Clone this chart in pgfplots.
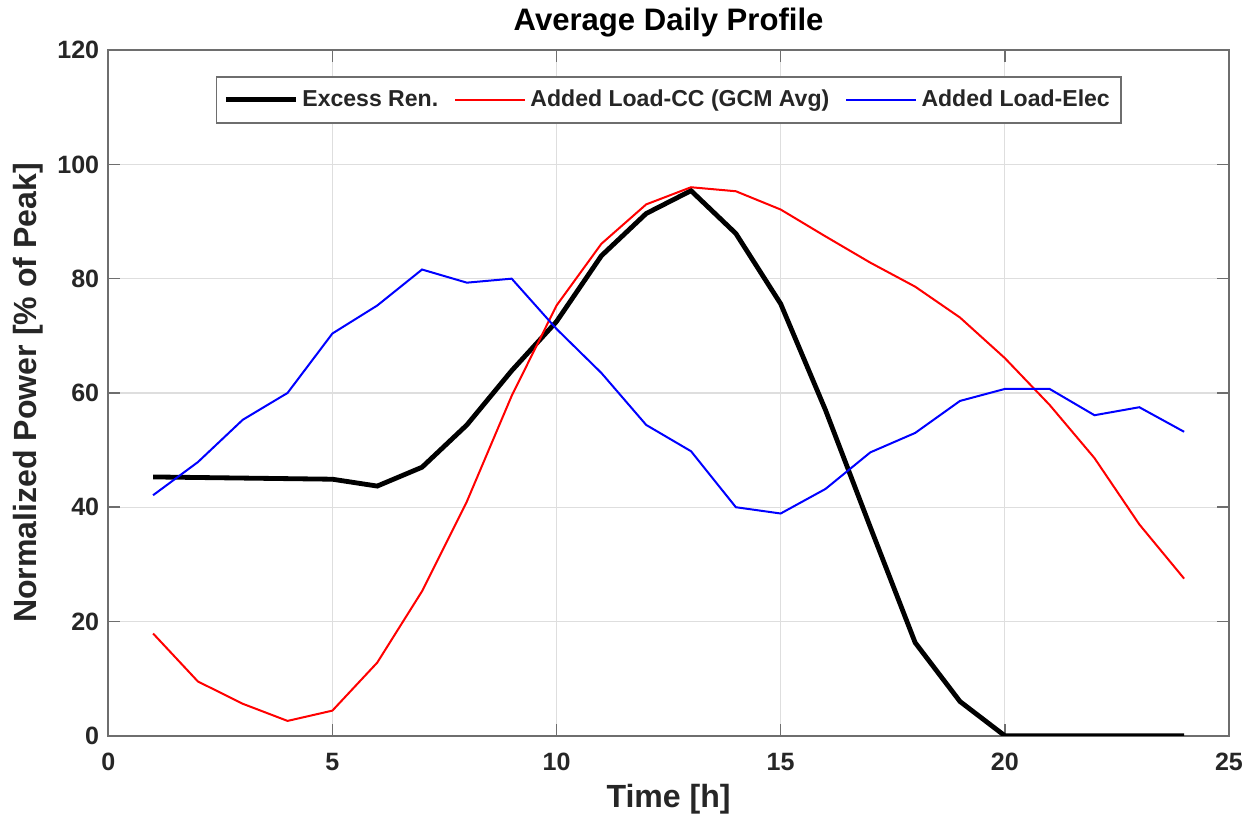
\documentclass[border=0pt]{standalone}
\usepackage{pgfplots}
\pgfplotsset{compat=1.18}
\usepackage{fontspec}
\setmainfont{Liberation Sans}

\definecolor{gridgray}{RGB}{222,222,222}
\definecolor{axgray}{RGB}{110,110,110}
\definecolor{txt}{RGB}{38,38,38}

\begin{document}
\begin{tikzpicture}
  \begin{axis}[
      name=main,
      scale only axis,
      width=559pt,
      height=342pt,
      xmin=0, xmax=25,
      ymin=0, ymax=120,
      xtick={0,5,...,25},
      ytick={0,20,...,120},
      tick align=inside,
      tick pos=both,
      major tick length=6pt,
      grid=major,
      major grid style={gridgray, line width=0.6pt},
      axis line style={axgray, line width=1pt},
      tick style={axgray, line width=0.8pt},
      /pgf/number format/assume math mode=true,
      tick label style={font=\fontsize{12.5}{14}\selectfont\bfseries, text=txt},
      xticklabel style={anchor=center, yshift=-13pt},
      yticklabel style={anchor=east, xshift=-1pt},
      title={Average Daily Profile},
      title style={font=\fontsize{15.5}{17}\selectfont\bfseries,
        at={(axis description cs:0.5,1.023)}, anchor=center},
      xlabel={Time [h]},
      ylabel={Normalized Power [\% of Peak]},
      label style={font=\fontsize{16}{18}\selectfont\bfseries, text=txt},
      xlabel style={at={(axis description cs:0.5,-0.092)}, anchor=center},
      ylabel style={at={(axis description cs:-0.0716,0.5)}, anchor=center},
      legend columns=3,
      legend style={at={(0.5,0.962)}, anchor=north, draw=axgray, line width=0.8pt,
        font=\fontsize{11.5}{14}\selectfont\bfseries, text=txt,
        /tikz/every even column/.append style={column sep=6pt},
        inner xsep=3.5pt, inner ysep=4.5pt},
      legend image code/.code={\draw[#1] (0pt,0pt) -- (35pt,0pt);},
    ]
    \addplot[black, line width=2.4pt] coordinates {
      (1,45.3) (2,45.2) (3,45.1) (4,45.0) (5,44.9) (6,43.7) (7,47.0) (8,54.4)
      (9,63.9) (10,72.5) (11,84.0) (12,91.4) (13,95.4) (14,87.9) (15,75.6)
      (16,57.0) (17,36.5) (18,16.3) (19,6.0) (20,0) (21,0) (22,0) (23,0) (24,0)
    };
    \addplot[red, line width=1pt] coordinates {
      (1,17.9) (2,9.5) (3,5.6) (4,2.6) (5,4.4) (6,12.8) (7,25.3) (8,41.0)
      (9,59.5) (10,75.3) (11,86.1) (12,93.0) (13,96.0) (14,95.3) (15,92.1)
      (16,87.4) (17,82.8) (18,78.6) (19,73.2) (20,66.1) (21,57.9) (22,48.6)
      (23,37.0) (24,27.5)
    };
    \addplot[blue, line width=1pt] coordinates {
      (1,42.1) (2,47.9) (3,55.3) (4,60.0) (5,70.4) (6,75.3) (7,81.6) (8,79.3)
      (9,80.0) (10,71.2) (11,63.5) (12,54.4) (13,49.8) (14,40.0) (15,38.9)
      (16,43.2) (17,49.6) (18,53.0) (19,58.6) (20,60.7) (21,60.7) (22,56.1)
      (23,57.5) (24,53.2)
    };
    \legend{Excess Ren.,Added Load-CC (GCM Avg),Added Load-Elec}
  \end{axis}
  \pgfresetboundingbox
  \path[use as bounding box] ([xshift=-54pt,yshift=-40pt]main.south west)
    rectangle ([xshift=10.5pt,yshift=25pt]main.north east);
\end{tikzpicture}
\end{document}
